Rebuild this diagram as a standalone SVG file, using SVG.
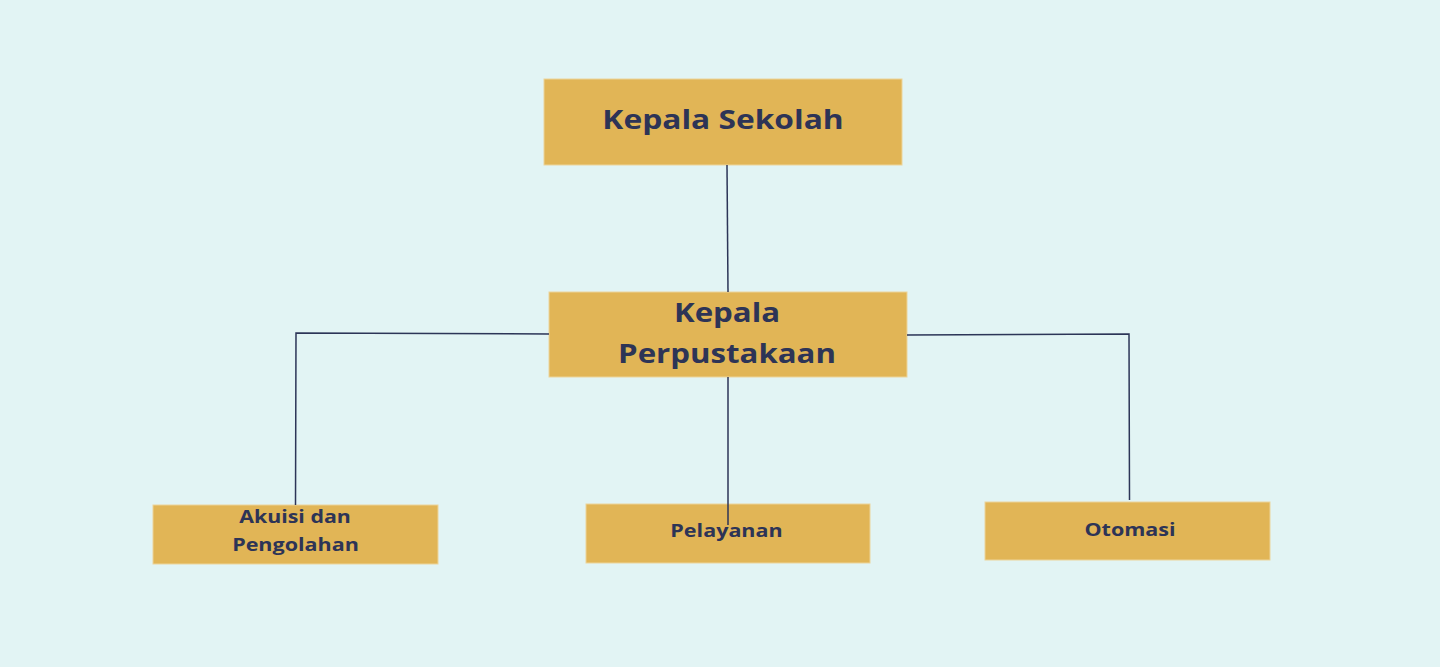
<svg xmlns="http://www.w3.org/2000/svg" width="1440" height="667" viewBox="0 0 1440 667">
<style>
.box{fill:#e1b556;stroke:#ecd49a;stroke-width:1}
.t{font-family:"Open Sans","Liberation Sans",sans-serif;font-weight:bold;fill:#2d3456;text-anchor:middle}
.big{font-size:26px}
.sm{font-size:17.5px}
.c{fill:none;stroke:#2c3557;stroke-width:1.5}
</style>
<rect width="1440" height="667" fill="#e2f4f4"/>
<g id="kepala-sekolah">
<rect class="box" x="544" y="79" width="358" height="86"/>
<text class="t big" transform="translate(723 128.5) scale(1.22 1)">Kepala Sekolah</text>
</g>
<g id="kepala-perpustakaan">
<rect class="box" x="549" y="292" width="358" height="85"/>
<text class="t big" transform="translate(727 322) scale(1.2 1)">Kepala</text>
<text class="t big" transform="translate(727 362.5) scale(1.2 1)">Perpustakaan</text>
</g>
<g id="akuisi">
<rect class="box" x="153" y="505" width="285" height="59"/>
<text class="t sm" transform="translate(295 523) scale(1.22 1)">Akuisi dan</text>
<text class="t sm" transform="translate(295.5 550.5) scale(1.23 1)">Pengolahan</text>
</g>
<g id="pelayanan">
<rect class="box" x="586" y="504" width="284" height="59"/>
<text class="t sm" transform="translate(726.5 537) scale(1.23 1)">Pelayanan</text>
</g>
<g id="otomasi">
<rect class="box" x="985" y="502" width="285" height="58"/>
<text class="t sm" transform="translate(1130 536) scale(1.23 1)">Otomasi</text>
</g>
<g id="connectors">
<path class="c" d="M727 165 L728 292"/>
<path class="c" d="M549 334 L296 333 L295.5 505"/>
<path class="c" d="M728 377 L728 525"/>
<path class="c" d="M907 335 L1129 334 L1129.5 500"/>
</g>
</svg>
